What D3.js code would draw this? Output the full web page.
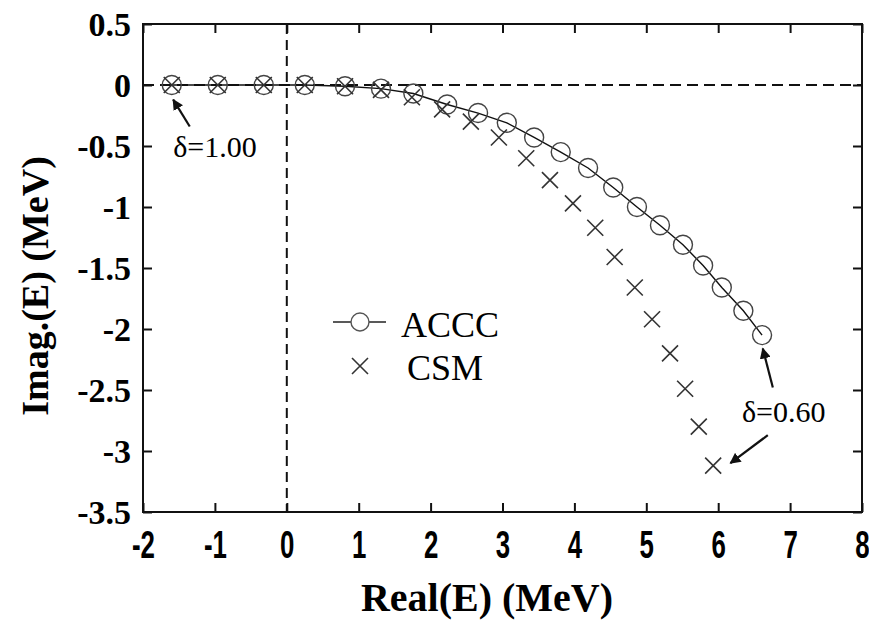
<!DOCTYPE html>
<html><head><meta charset="utf-8">
<script src="https://cdn.jsdelivr.net/npm/d3@7"></script>
<style>body{margin:0;background:#fff}</style>
</head><body><svg id="c" width="869" height="627"></svg>
<script>
// ---- data ----
const accX = [-1.60,-0.96,-0.32,0.25,0.81,1.31,1.76,2.23,2.66,3.06,3.44,3.81,4.19,4.54,4.87,5.19,5.51,5.79,6.05,6.35,6.61];
const accY = [0,0,0,0,-0.01,-0.03,-0.07,-0.16,-0.23,-0.31,-0.43,-0.55,-0.68,-0.84,-1.00,-1.15,-1.31,-1.48,-1.66,-1.85,-2.05];
const csmX = [-1.60,-0.96,-0.32,0.25,0.81,1.31,1.74,2.16,2.56,2.95,3.33,3.66,3.98,4.29,4.56,4.84,5.08,5.33,5.54,5.73,5.93];
const csmY = [0,0,0,0,-0.01,-0.04,-0.10,-0.20,-0.30,-0.43,-0.60,-0.78,-0.97,-1.17,-1.41,-1.66,-1.92,-2.20,-2.49,-2.80,-3.12];
const seriesNames = ["ACCC","CSM"];
const xTicks = [-2,-1,0,1,2,3,4,5,6,7,8];
const yTicks = [0.5,0,-0.5,-1,-1.5,-2,-2.5,-3,-3.5];
const xTitle = "Real(E) (MeV)";
const yTitle = "Imag.(E) (MeV)";
const annoLabels = ["δ=1.00","δ=0.60"];
const annoTextPos = [[-1.58,-0.59],[6.33,-2.76]];
const annoArrows = [[[-1.35,-0.34],[-1.58,-0.12]],[[6.76,-2.48],[6.62,-2.16]],[[6.69,-2.87],[6.17,-3.10]]];

// ---- chart ----
const svg = d3.select("#c");
const L=143,R=862,T=24,B=512;
const x = d3.scaleLinear().domain([-2,8]).range([L,R]);
const y = d3.scaleLinear().domain([-3.5,0.5]).range([B,T]);
const serif = "Liberation Serif";
const sans = "Liberation Sans";
function boldSerif(sel, size){
  sel.attr("font-family",serif).attr("font-weight","bold").attr("font-size",size).attr("fill","#000");
}

svg.append("defs").append("marker").attr("id","ah")
  .attr("viewBox","0 0 10 10").attr("refX",9).attr("refY",5)
  .attr("markerWidth",5).attr("markerHeight",5).attr("markerUnits","strokeWidth")
  .attr("orient","auto")
  .append("path").attr("d","M0,0L10,5L0,10z").attr("fill","#111");

// dashed reference lines
svg.append("line").attr("x1",x(-2)).attr("x2",x(8)).attr("y1",y(0)).attr("y2",y(0))
  .attr("stroke","#111").attr("stroke-width",2).attr("stroke-dasharray","11,6");
svg.append("line").attr("x1",x(0)).attr("x2",x(0)).attr("y1",y(0.5)).attr("y2",y(-3.5))
  .attr("stroke","#111").attr("stroke-width",2).attr("stroke-dasharray","10,6");

// axes
const gB = svg.append("g").attr("transform",`translate(0,${B})`)
  .call(d3.axisBottom(x).tickValues(xTicks).tickSize(-9).tickFormat(d=>String(d)));
const gT = svg.append("g").attr("transform",`translate(0,${T})`)
  .call(d3.axisTop(x).tickValues(xTicks).tickSize(-9).tickFormat(""));
const gL = svg.append("g").attr("transform",`translate(${L},0)`)
  .call(d3.axisLeft(y).tickValues(yTicks).tickSize(-9).tickFormat(d=>String(d)));
const gR = svg.append("g").attr("transform",`translate(${R},0)`)
  .call(d3.axisRight(y).tickValues(yTicks).tickSize(-9).tickFormat(""));
[gB,gT,gL,gR].forEach(g=>{
  g.select(".domain").remove();
  g.attr("font-family",null);
  g.selectAll(".tick line").attr("stroke","#111").attr("stroke-width",2);
});
gB.selectAll(".tick text").attr("y",0).attr("dy",0).attr("transform","translate(0,46) scale(0.68,1)")
  .attr("font-family",sans).attr("font-weight","bold").attr("font-size",38).attr("fill","#000");
boldSerif(gL.selectAll(".tick text").attr("x",-12).attr("dy","0.33em"), 34);

// frame
svg.append("rect").attr("x",L).attr("y",T).attr("width",R-L).attr("height",B-T)
  .attr("fill","none").attr("stroke","#111").attr("stroke-width",2);

// ACCC line + circles
const accData = accX.map((v,i)=>[v,accY[i]]);
const csmData = csmX.map((v,i)=>[v,csmY[i]]);
svg.append("path").datum(accData)
  .attr("d",d3.line().x(d=>x(d[0])).y(d=>y(d[1])))
  .attr("fill","none").attr("stroke","#111").attr("stroke-width",1.4);
svg.append("g").selectAll("circle").data(accData).join("circle")
  .attr("cx",d=>x(d[0])).attr("cy",d=>y(d[1])).attr("r",9.5)
  .attr("fill","none").attr("stroke","#444").attr("stroke-width",1.4);
const cs = 8;
svg.append("g").selectAll("path").data(csmData).join("path")
  .attr("d",d=>{const px=x(d[0]),py=y(d[1]);return `M${px-cs},${py-cs}L${px+cs},${py+cs}M${px-cs},${py+cs}L${px+cs},${py-cs}`;})
  .attr("stroke","#333").attr("stroke-width",1.6).attr("fill","none");

// legend
const lg = svg.append("g");
lg.append("line").attr("x1",333).attr("x2",386).attr("y1",322).attr("y2",322).attr("stroke","#222").attr("stroke-width",1.6);
lg.append("circle").attr("cx",360).attr("cy",322).attr("r",9).attr("fill","#fff").attr("stroke","#555").attr("stroke-width",1.4);
lg.append("path").attr("d",`M${352},${358}L${368},${374}M${352},${374}L${368},${358}`).attr("stroke","#333").attr("stroke-width",1.6);
lg.append("text").attr("x",401).attr("y",337).text(seriesNames[0])
  .attr("font-family",serif).attr("font-size",36).attr("fill","#000");
lg.append("text").attr("x",407).attr("y",380).text(seriesNames[1])
  .attr("font-family",serif).attr("font-size",36).attr("fill","#000");

// annotations
annoArrows.forEach(a=>{
  svg.append("line").attr("x1",x(a[0][0])).attr("y1",y(a[0][1])).attr("x2",x(a[1][0])).attr("y2",y(a[1][1]))
    .attr("stroke","#111").attr("stroke-width",2.2).attr("marker-end","url(#ah)");
});
annoLabels.forEach((t,i)=>{
  svg.append("text").attr("x",x(annoTextPos[i][0])).attr("y",y(annoTextPos[i][1])).text(t)
    .attr("font-family",serif).attr("font-size",30).attr("fill","#000");
});

// titles
boldSerif(svg.append("text").attr("x",487).attr("y",611).attr("text-anchor","middle").text(xTitle), 40);
boldSerif(svg.append("text").attr("transform","translate(48,286) rotate(-90)").attr("text-anchor","middle").text(yTitle), 38);
</script></body></html>
